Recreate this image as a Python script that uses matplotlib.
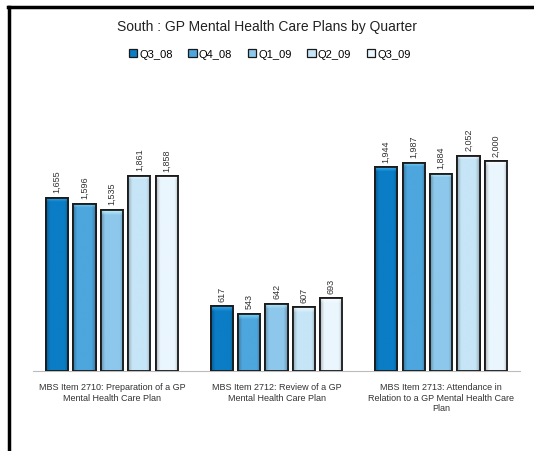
import numpy as np
import matplotlib
matplotlib.use("Agg")
from matplotlib import pyplot as plt
from matplotlib.lines import Line2D
from matplotlib.patches import Patch
from matplotlib.colors import to_rgb

# quarterly counts per MBS item
categories = ["MBS Item 2710: Preparation of a GP\nMental Health Care Plan",
              "MBS Item 2712: Review of a GP\nMental Health Care Plan",
              "MBS Item 2713: Attendance in\nRelation to a GP Mental Health Care\nPlan"]
quarters = ["Q3_08", "Q4_08", "Q1_09", "Q2_09", "Q3_09"]
q3_08 = [1655, 617, 1944]
q4_08 = [1596, 543, 1987]
q1_09 = [1535, 642, 1884]
q2_09 = [1861, 607, 2052]
q3_09 = [1858, 693, 2000]
colors = ["#0A7DC6", "#4DA6DD", "#8DC8EC", "#C6E5F7", "#EAF6FD"]

series = [q3_08, q4_08, q1_09, q2_09, q3_09]


def shade(ax, bar, col):
    # bevelled look: darker sides, light band at the top
    x0, y0 = bar.get_x(), bar.get_y()
    w, h = bar.get_width(), bar.get_height()
    nx, ny = 40, 200
    u = np.linspace(0, 1, nx)
    side = 1 - 0.25 * np.clip(1 - np.minimum(u, 1 - u) / 0.18, 0, 1)
    base = np.array(to_rgb(col))
    img = np.ones((ny, nx, 3)) * base
    img = img * side[None, :, None]
    top_rows = max(1, int(ny * 55.0 / h))
    hi = np.clip(base + 0.25, 0, 1)
    t = np.linspace(1, 0, top_rows)[:, None, None]
    img[:top_rows] = img[:top_rows] * (1 - t * 0.7) + hi * t * 0.7
    im = ax.imshow(img, extent=[x0, x0 + w, y0, y0 + h], aspect="auto",
                   origin="upper", zorder=2, interpolation="bilinear")
    im.set_clip_path(bar)


plt.rcParams['font.family'] = ['Liberation Sans', 'DejaVu Sans']
fig = plt.figure(figsize=(5.34, 4.52), dpi=100)
ax = fig.add_axes([33/534, 80/452, 487/534, 262/452])

x = np.arange(len(categories))
step = 0.167
width = 0.134
for i, (vals, col) in enumerate(zip(series, colors)):
    pos = x + (i - 2) * step
    bars = ax.bar(pos, vals, width, color=col, edgecolor="#1a1a1a", linewidth=1.3, zorder=1)
    for b, v in zip(bars, vals):
        shade(ax, b, col)
        outline = plt.Rectangle((b.get_x(), 0), b.get_width(), v, fill=False,
                                edgecolor="#1a1a1a", linewidth=1.3, zorder=3)
        ax.add_patch(outline)
        ax.text(b.get_x() + b.get_width() / 2, v + 55, "{:,}".format(v),
                rotation=90, ha="center", va="bottom", fontsize=6.5, color="#333333")

ax.set_xlim(-0.48, 2.48)
ax.set_ylim(0, 2500)
ax.set_yticks([])
ax.set_xticks(x)
ax.set_xticklabels(categories, fontsize=6.5, color="#333333", linespacing=1.2)
ax.tick_params(axis="x", length=0, pad=8)
for s in ["top", "right", "left"]:
    ax.spines[s].set_visible(False)
ax.spines["bottom"].set_color("#bbbbbb")

fig.text(0.5, 1 - 27/452, "South : GP Mental Health Care Plans by Quarter",
         ha="center", va="center", fontsize=10, color="#222222")
handles = [Patch(facecolor=c, edgecolor="#1a1a1a", linewidth=0.9) for c in colors]
fig.legend(handles, quarters, loc="center", bbox_to_anchor=(0.505, 1 - 55/452),
           ncol=5, frameon=False, fontsize=8, handlelength=0.75, handleheight=0.75,
           handletextpad=0.2, columnspacing=1.4)

# frame on top and left edges
fig.add_artist(Line2D([8/534, 532/534], [1 - 8/452, 1 - 8/452], color="black", linewidth=2.5))
fig.add_artist(Line2D([9/534, 9/534], [0, 1 - 8/452], color="black", linewidth=2.5))

fig.savefig("out.png", dpi=100)
